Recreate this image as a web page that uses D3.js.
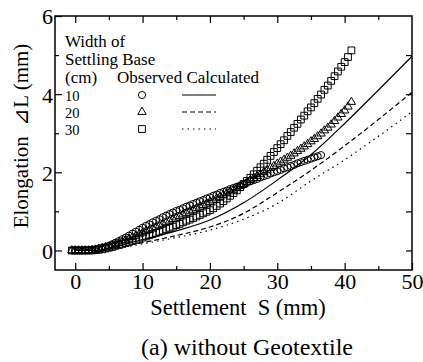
<!DOCTYPE html>
<html>
<head>
<meta charset="utf-8">
<script src="https://cdn.jsdelivr.net/npm/d3@7"></script>
<style>
  body { margin: 0; background: #fff; }
  svg text { font-family: 'Liberation Serif', 'Times New Roman', Tinos, 'DejaVu Serif', 'Noto Serif', Times, serif !important; fill: #000; }
</style>
</head>
<body>
<div id="chart"></div>
<script>
// observed settlement (mm), shared by the three observed series
const obsSettlement = [
  -0.5, 0, 0.5, 1, 1.5, 2, 2.5, 3, 3.5, 4, 4.5, 5, 5.5, 6, 6.5, 7, 7.5, 8, 8.5, 9, 9.5,
  10, 10.5, 11, 11.5, 12, 12.5, 13, 13.5, 14, 14.5, 15, 15.5, 16, 16.5, 17, 17.5, 18, 18.5, 19, 19.5,
  20, 20.5, 21, 21.5, 22, 22.5, 23, 23.5, 24, 24.5, 25, 25.5, 26, 26.5, 27, 27.5, 28, 28.5, 29, 29.5,
  30, 30.5, 31, 31.5, 32, 32.5, 33, 33.5, 34, 34.5, 35, 35.5, 36, 36.5, 37, 37.5, 38, 38.5, 39, 39.5,
  40, 40.5, 41
]
// elongation (mm), 10 cm base (circles)
const obs10 = [
  0, 0, 0, 0, 0, 0.01, 0.02, 0.03, 0.05, 0.07, 0.09, 0.12, 0.16, 0.20, 0.24, 0.29, 0.33, 0.38, 0.43, 0.48, 0.53,
  0.58, 0.63, 0.67, 0.72, 0.76, 0.80, 0.85, 0.89, 0.93, 0.97, 1.01, 1.04, 1.08, 1.12, 1.15, 1.19, 1.22, 1.26, 1.29, 1.33,
  1.36, 1.40, 1.43, 1.47, 1.50, 1.53, 1.57, 1.60, 1.63, 1.66, 1.70, 1.73, 1.77, 1.80, 1.83, 1.87, 1.90, 1.93, 1.97, 2.00,
  2.03, 2.06, 2.10, 2.13, 2.16, 2.19, 2.23, 2.26, 2.29, 2.32, 2.35, 2.38, 2.41, 2.44
]
// 20 cm base (triangles)
const obs20 = [
  0, 0, 0, 0, 0, 0, 0.01, 0.02, 0.04, 0.06, 0.08, 0.10, 0.13, 0.16, 0.19, 0.23, 0.26, 0.30, 0.34, 0.37, 0.41,
  0.45, 0.49, 0.52, 0.56, 0.60, 0.64, 0.68, 0.72, 0.76, 0.80, 0.84, 0.88, 0.92, 0.96, 1.00, 1.04, 1.08, 1.12, 1.16, 1.20,
  1.24, 1.28, 1.33, 1.37, 1.42, 1.46, 1.51, 1.55, 1.60, 1.65, 1.70, 1.75, 1.80, 1.85, 1.90, 1.95, 2.00, 2.05, 2.11, 2.16,
  2.22, 2.27, 2.32, 2.37, 2.42, 2.48, 2.54, 2.60, 2.66, 2.72, 2.79, 2.85, 2.92, 2.99, 3.07, 3.14, 3.22, 3.31, 3.40, 3.49,
  3.58, 3.68, 3.80
]
// 30 cm base (squares)
const obs30 = [
  0, 0, 0, 0, 0, 0, 0, 0.01, 0.02, 0.03, 0.05, 0.07, 0.09, 0.12, 0.14, 0.17, 0.19, 0.22, 0.25, 0.27, 0.30,
  0.33, 0.36, 0.39, 0.42, 0.45, 0.48, 0.51, 0.55, 0.58, 0.61, 0.65, 0.68, 0.72, 0.76, 0.79, 0.83, 0.87, 0.91, 0.95, 0.99,
  1.03, 1.08, 1.14, 1.20, 1.26, 1.33, 1.40, 1.47, 1.54, 1.62, 1.70, 1.78, 1.86, 1.95, 2.04, 2.13, 2.22, 2.32, 2.42, 2.52,
  2.62, 2.72, 2.82, 2.93, 3.03, 3.14, 3.24, 3.35, 3.45, 3.56, 3.66, 3.77, 3.88, 3.99, 4.11, 4.22, 4.34, 4.46, 4.58, 4.70,
  4.82, 4.95, 5.12
]

// calculated curves
const calcSettlement = [0, 3, 5, 10, 15, 20, 25, 30, 35, 40, 45, 50]
const calc10 = [0, 0, 0.06, 0.28, 0.5, 0.78, 1.22, 1.8, 2.45, 3.25, 4.1, 4.97]
const calc20 = [0, 0, 0.04, 0.2, 0.38, 0.6, 0.95, 1.48, 2.05, 2.68, 3.35, 4.05]
const calc30 = [0, 0, 0.03, 0.17, 0.33, 0.52, 0.8, 1.2, 1.78, 2.32, 2.92, 3.55]

const xMajor = [0, 10, 20, 30, 40, 50]
const xMinor = [5, 15, 25, 35, 45]
const yMajor = [0, 2, 4, 6]
const yMinor = [1, 3, 5]
const legendWidths = ['10', '20', '30']

const W = 423
const H = 362
const box = { left: 55, right: 412, top: 16, bottom: 270 }
const serif = "'Liberation Serif', 'Times New Roman', Tinos, 'DejaVu Serif', 'Noto Serif', Times, serif"

const svg = d3
  .select('#chart')
  .append('svg')
  .attr('width', W)
  .attr('height', H)
  .attr('font-family', serif)

const x = d3.scaleLinear().domain([-3, 50]).range([box.left, box.right])
const y = d3.scaleLinear().domain([-0.5, 6]).range([box.bottom, box.top])

// axes with inward ticks
function addAxis(axis, tx, ty, cls) {
  const g = svg
    .append('g')
    .attr('class', cls)
    .attr('transform', 'translate(' + tx + ',' + ty + ')')
    .call(axis)
  g.attr('font-family', serif)
  g.select('.domain').remove()
  g.selectAll('line').attr('stroke', '#000').attr('stroke-width', 1.2)
  g.selectAll('text').attr('font-size', 22).attr('font-family', serif)
  return g
}

addAxis(d3.axisBottom(x).tickValues(xMajor).tickSize(-7).tickPadding(3).tickFormat(d3.format('d')), 0, box.bottom, 'x-axis')
addAxis(d3.axisBottom(x).tickValues(xMinor).tickSize(-4).tickFormat(''), 0, box.bottom, 'x-minor')
addAxis(d3.axisTop(x).tickValues(xMajor.slice(0, 5)).tickSize(-7).tickFormat(''), 0, box.top, 'x-top')
addAxis(d3.axisTop(x).tickValues(xMinor).tickSize(-4).tickFormat(''), 0, box.top, 'x-top-minor')
addAxis(d3.axisLeft(y).tickValues(yMajor).tickSize(-7).tickPadding(2).tickFormat(d3.format('d')), box.left, 0, 'y-axis')
addAxis(d3.axisLeft(y).tickValues(yMinor).tickSize(-4).tickFormat(''), box.left, 0, 'y-minor')
addAxis(d3.axisRight(y).tickValues(yMajor.slice(0, 3).concat(yMinor)).tickSize(-6).tickFormat(''), box.right, 0, 'y-right')

svg.selectAll('.y-axis text').attr('dy', '0.36em')

svg
  .append('rect')
  .attr('x', box.left)
  .attr('y', box.top)
  .attr('width', box.right - box.left)
  .attr('height', box.bottom - box.top)
  .attr('fill', 'none')
  .attr('stroke', '#000')
  .attr('stroke-width', 1.5)

// calculated lines
const styles = ['none', '5,3', '1.5,4']
const calcSeries = [calc10, calc20, calc30]
const line = d3
  .line()
  .x(d => x(d[0]))
  .y(d => y(d[1]))
  .curve(d3.curveMonotoneX)

calcSeries.forEach((vals, i) => {
  svg
    .append('path')
    .datum(calcSettlement.map((s, j) => [s, vals[j]]))
    .attr('d', line)
    .attr('fill', 'none')
    .attr('stroke', '#000')
    .attr('stroke-width', 1.2)
    .attr('stroke-dasharray', styles[i])
})

// observed markers
const symbols = [
  d3.symbol().type(d3.symbolCircle).size(40),
  d3.symbol().type(d3.symbolTriangle).size(30),
  d3.symbol().type(d3.symbolSquare).size(46)
]
const obsSeries = [obs10, obs20, obs30]

obsSeries.forEach((vals, i) => {
  svg
    .append('g')
    .selectAll('path')
    .data(vals.map((v, j) => [obsSettlement[j], v]))
    .enter()
    .append('path')
    .attr('d', symbols[i])
    .attr('transform', d => 'translate(' + x(d[0]) + ',' + y(d[1]) + ')')
    .attr('fill', 'none')
    .attr('stroke', '#000')
    .attr('stroke-width', 1)
})

// legend
const legend = svg.append('g').attr('font-size', 17)
legend.append('text').attr('x', 65).attr('y', 47).text('Width of')
legend.append('text').attr('x', 65).attr('y', 65).text('Settling Base')
legend.append('text').attr('x', 65).attr('y', 83).text('(cm)')
legend.append('text').attr('x', 117).attr('y', 83).text('Observed Calculated')

legendWidths.forEach((w, i) => {
  const by = 101 + i * 17
  legend.append('text').attr('x', 65).attr('y', by).attr('font-size', 14.5).text(w)
  legend
    .append('path')
    .attr('d', symbols[i])
    .attr('transform', 'translate(142,' + (by - 6) + ')')
    .attr('fill', 'none')
    .attr('stroke', '#000')
    .attr('stroke-width', 1)
  legend
    .append('line')
    .attr('x1', 182)
    .attr('x2', 216)
    .attr('y1', by - 6)
    .attr('y2', by - 6)
    .attr('stroke', '#000')
    .attr('stroke-width', 1.2)
    .attr('stroke-dasharray', styles[i])
})

// axis titles and caption
svg
  .append('text')
  .attr('x', 238)
  .attr('y', 315)
  .attr('text-anchor', 'middle')
  .attr('font-size', 22.5)
  .attr('xml:space', 'preserve')
  .text('Settlement  S (mm)')

svg
  .append('text')
  .attr('transform', 'translate(28,136) rotate(-90)')
  .attr('text-anchor', 'middle')
  .attr('font-size', 21)
  .attr('xml:space', 'preserve')
  .text('Elongation  \u22BFL (mm)')

svg
  .append('text')
  .attr('x', 247)
  .attr('y', 355)
  .attr('text-anchor', 'middle')
  .attr('font-size', 24)
  .text('(a) without Geotextile')
</script>
</body>
</html>
